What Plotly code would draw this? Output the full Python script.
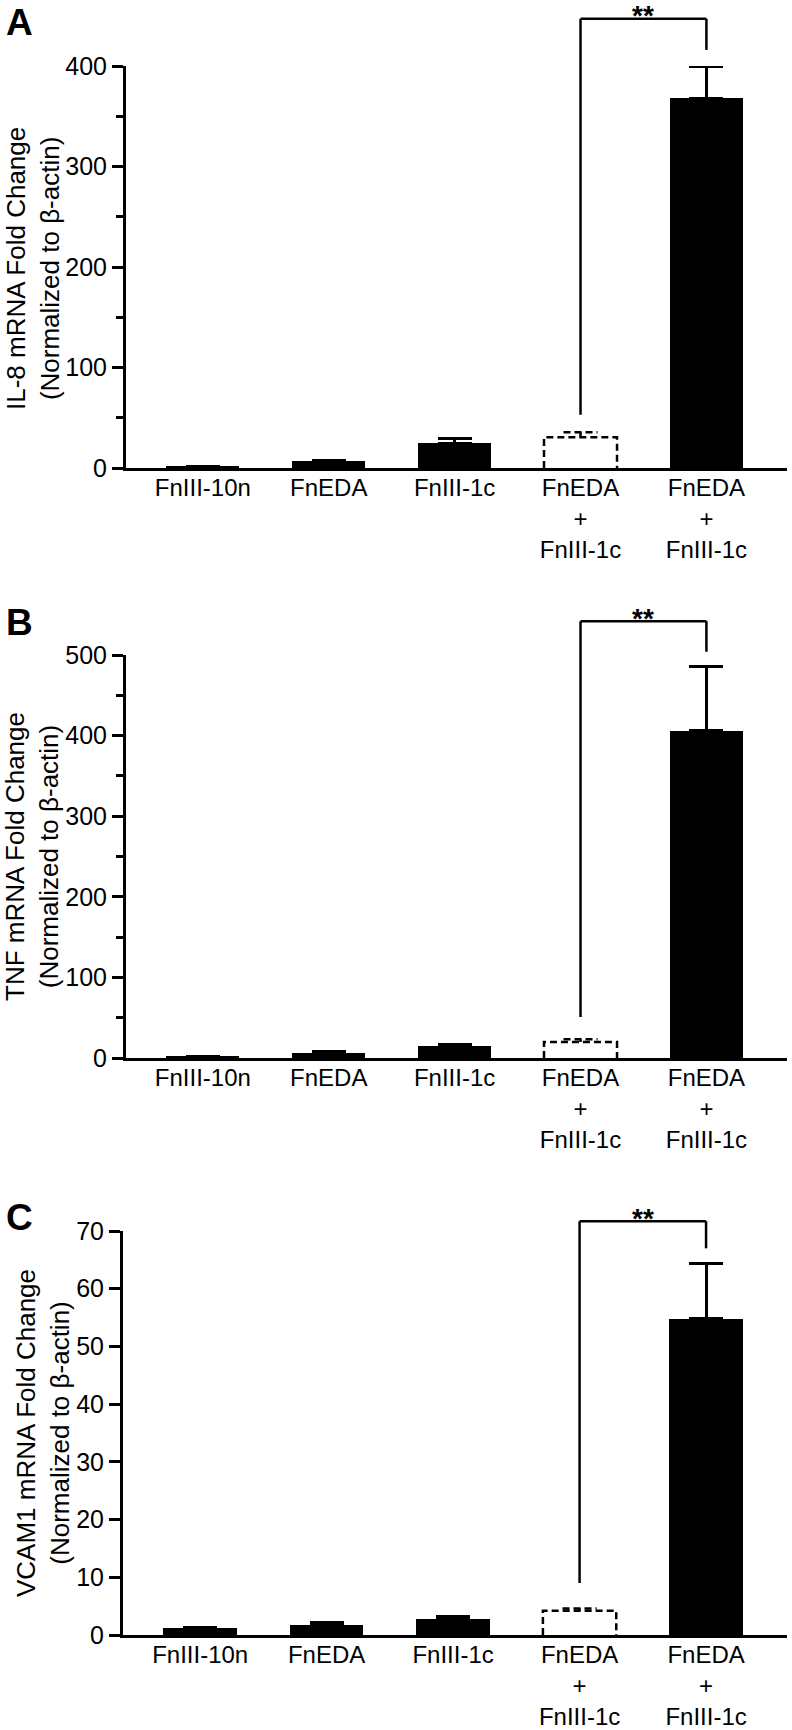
import plotly.graph_objects as go

# ---- data ----
labels = ['FnIII-10n', 'FnEDA', 'FnIII-1c', 'FnEDA<br>+<br>FnIII-1c', 'FnEDA<br>+<br>FnIII-1c']

il8_mean = [1.5, 6.6, 24.5, 30.5, 368]
il8_sem = [0.3, 0.7, 5.0, 5.0, 32]

tnf_mean = [1.3, 5.8, 15.0, 19.9, 406]
tnf_sem = [0.3, 2.0, 1.5, 3.3, 80]

vcam1_mean = [1.2, 1.7, 2.8, 4.2, 54.8]
vcam1_sem = [0.1, 0.5, 0.4, 0.4, 9.5]

# significance bracket: left leg bottom, top, right leg bottom
il8_bracket = [53, 447, 416]
tnf_bracket = [51, 542, 504]
vcam1_bracket = [9, 71.7, 67]

genes = ['IL-8', 'TNF', 'VCAM1']
letters = ['A', 'B', 'C']
y_max = [400, 500, 70]
y_major = [100, 100, 10]
y_minor = [50, 50, None]

OPEN_BAR = 3          # dashed / open bar
SIG_PAIR = (3, 4)     # compared bars

# ---- layout in pixels ----
W, H = 792, 1730
FONT = 'Liberation Sans, Arial, sans-serif'
FS = 25
FS_X = 24
LW = 2.5
BAR_W = 0.58
CAP = 0.135           # half cap width in x units
XR = [-0.61, 4.64]
X_END = 787

boxes = [dict(top=66, bottom=468, left=126, tx=33, ty=269, ly=0),
         dict(top=655, bottom=1058, left=126, tx=32, ty=857, ly=600),
         dict(top=1231, bottom=1635, left=123, tx=43, ty=1433, ly=1195)]

series = [(il8_mean, il8_sem, il8_bracket),
          (tnf_mean, tnf_sem, tnf_bracket),
          (vcam1_mean, vcam1_sem, vcam1_bracket)]

fig = go.Figure()
shapes, annot = [], []

for p, (mean, sem, br) in enumerate(series):
    n = '' if p == 0 else str(p + 1)
    box = boxes[p]
    xs = list(range(len(labels)))
    solid = [i for i in xs if i != OPEN_BAR]

    fig.add_trace(go.Bar(
        x=solid, y=[mean[i] for i in solid], width=BAR_W,
        marker=dict(color='black', line=dict(width=0)),
        error_y=dict(type='data', symmetric=False,
                     array=[sem[i] for i in solid], arrayminus=[0] * len(solid),
                     color='black', thickness=3, width=17),
        xaxis='x' + n, yaxis='y' + n, showlegend=False))

    # open bar with dashed outline and dashed error bar
    i = OPEN_BAR
    v, e = mean[i], sem[i]
    fig.add_trace(go.Scatter(
        x=[i - BAR_W / 2, i - BAR_W / 2, i + BAR_W / 2, i + BAR_W / 2, None,
           i, i, None, i - CAP, i + CAP],
        y=[0, v, v, 0, None, v, v + e, None, v + e, v + e],
        mode='lines', line=dict(color='black', width=LW, dash='7px,4px'),
        xaxis='x' + n, yaxis='y' + n, showlegend=False, hoverinfo='skip'))

    ax = dict(domain=[box['left'] / W, X_END / W], range=XR, anchor='y' + n,
              showline=True, linewidth=LW + 0.5, linecolor='black', ticks='',
              tickvals=xs, ticktext=labels, tickfont=dict(size=FS_X, color='black'),
              showgrid=False, zeroline=False, ticklabelstandoff=-4, fixedrange=True)
    ay = dict(domain=[1 - box['bottom'] / H, 1 - box['top'] / H], range=[0, y_max[p]],
              anchor='x' + n, showline=True, linewidth=LW + 0.5, linecolor='black',
              ticks='outside', ticklen=11, tickwidth=LW, tickcolor='black',
              dtick=y_major[p], tick0=0, tickfont=dict(size=FS, color='black'),
              showgrid=False, zeroline=False, fixedrange=True)
    if y_minor[p]:
        ay['minor'] = dict(dtick=y_minor[p], tick0=0, ticks='outside', ticklen=7,
                           tickwidth=LW, tickcolor='black', showgrid=False)
    fig.update_layout({'xaxis' + n: ax, 'yaxis' + n: ay})

    # significance bracket (drawn above the axis range)
    a, b = SIG_PAIR
    yr = 'y' + n + ' domain'
    top = br[1] / y_max[p]
    for x0, y0, x1, y1 in [(a, br[0] / y_max[p], a, top), (a, top, b, top),
                           (b, top, b, br[2] / y_max[p])]:
        shapes.append(dict(type='line', xref='x' + n, yref=yr, x0=x0, y0=y0, x1=x1, y1=y1,
                           line=dict(color='black', width=LW)))
    annot.append(dict(xref='x' + n, yref=yr, x=(a + b) / 2, y=top, text='<b>**</b>',
                      showarrow=False, yanchor='middle', yshift=3,
                      font=dict(size=28, color='black')))

    # y-axis title
    annot.append(dict(xref='paper', yref='paper', x=box['tx'] / W, y=1 - box['ty'] / H,
                      text=f'{genes[p]} mRNA Fold Change<br>(Normalized to β-actin)',
                      textangle=-90, showarrow=False, xanchor='center', yanchor='middle',
                      font=dict(size=26, color='black')))
    # panel letter
    annot.append(dict(xref='paper', yref='paper', x=4 / W, y=1 - box['ly'] / H,
                      text=f'<b>{letters[p]}</b>', showarrow=False,
                      xanchor='left', yanchor='top', font=dict(size=37, color='black')))

fig.update_layout(width=W, height=H, autosize=False,
                  margin=dict(l=0, r=0, t=0, b=0, autoexpand=False),
                  paper_bgcolor='white', plot_bgcolor='white',
                  font=dict(family=FONT, color='black'),
                  bargap=0, shapes=shapes, annotations=annot, showlegend=False)

# page body margin off so the figure sits at the window corner
fig.write_html('out.html', config={'displayModeBar': False},
               post_script="document.body.style.margin='0';")
